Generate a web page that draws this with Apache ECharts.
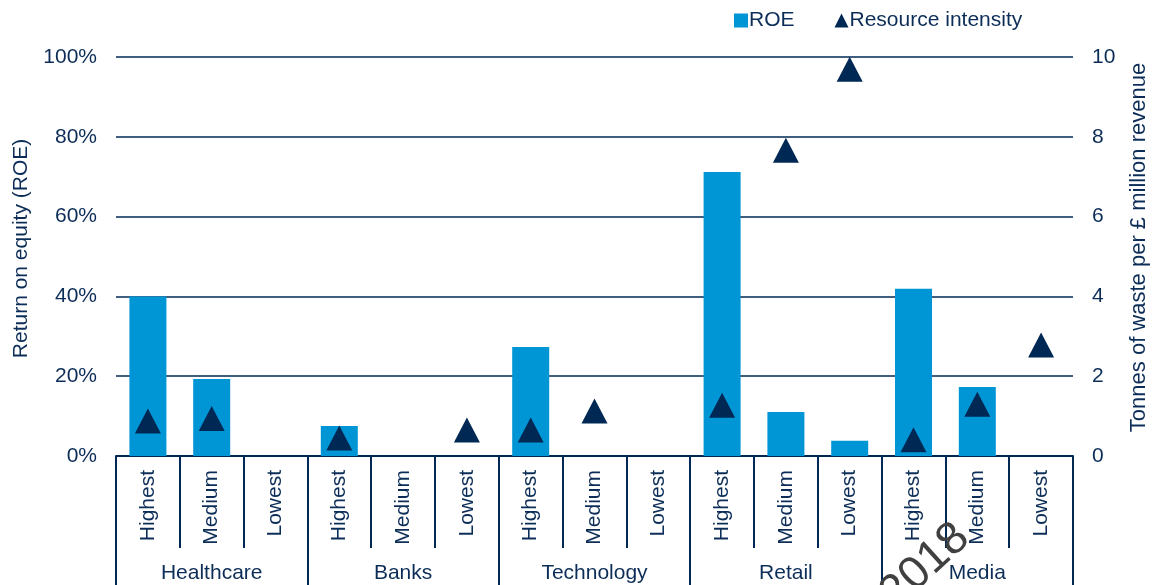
<!DOCTYPE html>
<html>
<head>
<meta charset="utf-8">
<title>ROE and resource intensity by sector</title>
<script src="https://cdn.jsdelivr.net/npm/echarts@6/dist/echarts.min.js"></script>
<style>
  html, body { margin: 0; padding: 0; background: #ffffff; }
  #chart { width: 1153px; height: 585px; }
</style>
</head>
<body>
<div id="chart"></div>
<script>
// Sectors and the resource-intensity tiers within each one
const sectors = ['Healthcare', 'Banks', 'Technology', 'Retail', 'Media'];
const tiers = ['Highest', 'Medium', 'Lowest'];

// Return on equity, % (null where no bar is shown)
const roe = [
  40.0, 19.3, null,
  7.5, null, null,
  27.3, null, null,
  71.2, 11.0, 3.8,
  41.9, 17.3, null
];

// Tonnes of waste per £ million revenue (null where no marker is shown)
const resourceIntensity = [
  0.88, 0.94, null,
  0.45, null, 0.65,
  0.65, 1.13, null,
  1.27, 7.66, 9.69,
  0.41, 1.30, 2.78
];

// Tick labels of the two value axes
const roeTicks = { min: 0, max: 100, interval: 20 };
const wasteTicks = { min: 0, max: 10, interval: 2 };

const tierLabels = [];
sectors.forEach(function () { tiers.forEach(function (t) { tierLabels.push(t); }); });

const navy = '#002855';
const textNavy = '#0c2d57';
const blue = '#0096d6';
const font = 'Liberation Sans, Arial, sans-serif';
const fs = 21;

const chart = echarts.init(document.getElementById('chart'), null, { renderer: 'canvas' });

chart.setOption({
  animation: false,
  backgroundColor: '#ffffff',
  textStyle: { fontFamily: font, color: textNavy },
  grid: {
    left: 116, right: 80, top: 57, bottom: 129,
    containLabel: false,
    outerBoundsMode: 'none'
  },
  legend: {
    left: 729,
    top: 5,
    itemWidth: 14,
    itemHeight: 14,
    itemGap: 40,
    textStyle: { fontSize: fs, color: textNavy, fontFamily: font, padding: [0, 0, 0, -4] },
    data: [
      { name: 'ROE', icon: 'rect' },
      { name: 'Resource intensity', icon: 'triangle' }
    ]
  },
  xAxis: [
    {
      type: 'category',
      data: tierLabels,
      position: 'bottom',
      axisLine: { show: true, lineStyle: { color: navy, width: 2 } },
      axisTick: { show: true, interval: 0, length: 92, lineStyle: { color: navy, width: 2 } },
      axisLabel: {
        interval: 0,
        rotate: 90,
        margin: 14,
        fontSize: fs,
        color: textNavy,
        fontFamily: font
      },
      splitLine: { show: false }
    },
    {
      type: 'category',
      data: sectors,
      position: 'bottom',
      axisLine: { show: false },
      axisTick: { show: true, interval: 0, length: 140, lineStyle: { color: navy, width: 2 } },
      axisLabel: {
        interval: 0,
        margin: 107,
        fontSize: fs,
        color: textNavy,
        fontFamily: font
      },
      splitLine: { show: false }
    }
  ],
  yAxis: [
    {
      type: 'value',
      min: roeTicks.min,
      max: roeTicks.max,
      interval: roeTicks.interval,
      position: 'left',
      name: 'Return on equity (ROE)',
      nameLocation: 'middle',
      nameRotate: 90,
      nameGap: 84,
      nameTextStyle: { fontSize: fs, color: textNavy, fontFamily: font, padding: [0, 0, 0, 16] },
      axisLine: { show: false },
      axisTick: { show: false },
      axisLabel: { formatter: '{value}%', fontSize: fs, margin: 19, color: textNavy, fontFamily: font },
      splitLine: { show: true, lineStyle: { color: navy, width: 1.6 } }
    },
    {
      type: 'value',
      min: wasteTicks.min,
      max: wasteTicks.max,
      interval: wasteTicks.interval,
      position: 'right',
      name: 'Tonnes of waste per £ million revenue',
      nameLocation: 'middle',
      nameRotate: 90,
      nameGap: 55,
      nameTextStyle: { fontSize: 22, color: textNavy, fontFamily: font, padding: [0, 0, 0, 18] },
      axisLine: { show: false },
      axisTick: { show: false },
      axisLabel: { fontSize: fs, margin: 19, color: textNavy, fontFamily: font },
      splitLine: { show: false }
    }
  ],
  series: [
    {
      name: 'ROE',
      type: 'bar',
      xAxisIndex: 0,
      yAxisIndex: 0,
      data: roe,
      barWidth: '58%',
      itemStyle: { color: blue },
      z: 2
    },
    {
      name: 'Resource intensity',
      type: 'scatter',
      xAxisIndex: 0,
      yAxisIndex: 1,
      data: resourceIntensity,
      symbol: 'triangle',
      symbolSize: [26, 25],
      itemStyle: { color: navy, opacity: 1 },
      z: 3
    }
  ],
  graphic: [
    {
      type: 'text',
      x: 925,
      y: 566,
      rotation: 0.74,
      z: 10,
      style: {
        text: '2018',
        fontSize: 46,
        fontFamily: font,
        fill: '#404040',
        align: 'center',
        verticalAlign: 'middle'
      }
    }
  ]
});
</script>
</body>
</html>
